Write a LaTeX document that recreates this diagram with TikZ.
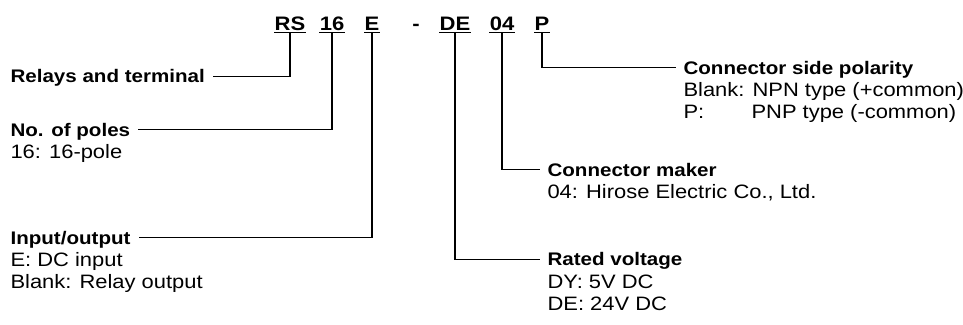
\documentclass[tikz,border=0pt]{standalone}
\usepackage{fontspec}
\setmainfont{Liberation Sans}
\newfontfamily\widefont[FakeStretch=1.13]{Liberation Sans}

\begin{document}
\begin{tikzpicture}[x=1pt,y=-1pt,line width=1.1pt,
  code/.style={inner sep=0pt,text depth=2pt,anchor=base,
    font=\widefont\bfseries\fontsize{19.5}{24}\selectfont},
  title/.style={inner xsep=7.5pt,inner ysep=0pt,text height=13pt,
    text depth=0.5pt,anchor=base west,
    font=\widefont\bfseries\fontsize{18.2}{22}\selectfont},
  desc/.style={inner sep=0pt,anchor=base west,
    font=\widefont\fontsize{19.4}{22}\selectfont}]
  \useasboundingbox (0,0) rectangle (963,324);

  %% model code
  \node[code] (rs) at (290,30) {RS};
  \node[code] (n16) at (332,30) {16};
  \node[code] (e) at (372,30) {E};
  \node[code] (hyph) at (416,30) {-};
  \node[code] (de) at (455,30) {DE};
  \node[code] (n04) at (502,30) {04};
  \node[code] (p) at (542,30) {P};
  \foreach \c in {rs,n16,e,de,n04,p}
    \draw (\c.south west) -- (\c.south east);

  %% left side
  \node[title] (relays) at (2.5,82.7) {Relays and terminal};

  \node[title] (poles) at (2.5,136) {No. of poles};
  \node[desc] (poles1) at (10,158.5) {16: 16-pole};

  \node[title] (io) at (2.5,244) {Input/output};
  \node[desc] (io1) at (10,266.5) {E: DC input};
  \node[desc] (io2) at (10,288.5) {Blank: Relay output};

  %% right side
  \node[title] (polarity) at (675.5,74) {Connector side polarity};
  \node[desc] (polarity1) at (683,96.5) {Blank: NPN type (+common)};
  \node[desc] (polarity2) at (683,118.5) {\makebox[68pt][l]{P:}PNP type (-common)};

  \node[title] (maker) at (539.5,176) {Connector maker};
  \node[desc] (maker1) at (547,198.5) {04: Hirose Electric Co., Ltd.};

  \node[title] (voltage) at (539.5,265.7) {Rated voltage};
  \node[desc] (voltage1) at (547,288) {DY: 5V DC};
  \node[desc] (voltage2) at (547,310) {DE: 24V DC};

  %% leaders
  \draw (rs.south) |- (relays.east);
  \draw (n16.south) |- (poles.east);
  \draw (e.south) |- (io.east);
  \draw (de.south) |- (voltage.west);
  \draw (n04.south) |- (maker.west);
  \draw (p.south) |- (polarity.west);

\end{tikzpicture}
\end{document}
